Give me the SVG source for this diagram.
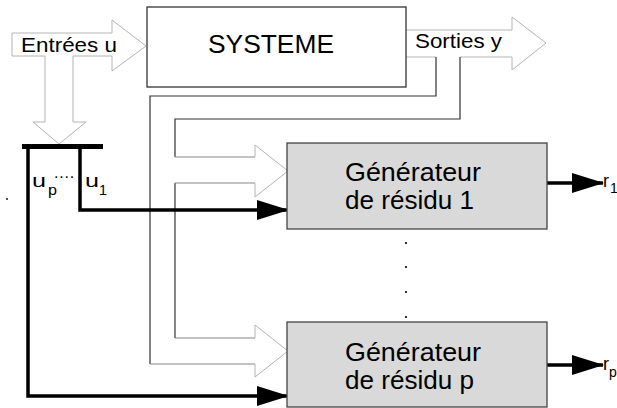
<svg xmlns="http://www.w3.org/2000/svg" width="617" height="408" viewBox="0 0 617 408">
<style>
text{font-family:"Liberation Sans",Arial,sans-serif;fill:#000}
.box{fill:#fff;stroke:#333;stroke-width:1.3}
.gen{fill:#d9d9d9;stroke:#444;stroke-width:1.3}
.hollow{fill:none;stroke:#b4b4b4;stroke-width:1}
.pipe{fill:none;stroke:#333;stroke-width:1.2}
.pipe2{fill:none;stroke:#888;stroke-width:1.2}
.thick{fill:none;stroke:#000;stroke-width:3.5}
.big{font-size:26px}
.mid{font-size:21px}
.sm{font-size:19px}
.sub{font-size:15px}
</style>
<defs>
<marker id="ah" markerUnits="userSpaceOnUse" viewBox="0 0 32 20" refX="31" refY="10" markerWidth="32" markerHeight="20" orient="auto">
<path d="M0,0 L32,10 L0,20 Z" fill="#000"/>
</marker>
</defs>
<rect width="617" height="408" fill="#fff"/>

<g id="connectors">
<!-- Entrées u hollow arrow -->
<path class="hollow" d="M45,56 L12,56 L12,33 L112,33 L112,20 L146,46 L112,71 L112,56 L73,56"/>
<path class="hollow" d="M45,56 L45,122 L33,122 L59,144 L86,122 L73,122 L73,56"/>
<!-- Sorties y hollow arrow -->
<path class="hollow" d="M406,30 L512,30 L512,17 L546,43 L512,70 L512,57 L460,57"/>
<path class="hollow" d="M406,57 L436,57"/>
<!-- pipes from outputs -->
<path class="pipe" d="M436,57 L436,96 L150,96 L150,364"/>
<path class="pipe" d="M460,57 L460,119 L175,119 L175,157"/>
<path class="pipe" d="M175,183 L175,338"/>
<path class="pipe2" d="M175,157 L255,157"/>
<path class="pipe2" d="M175,183 L255,183"/>
<path class="pipe2" d="M175,338 L255,338"/>
<path class="pipe2" d="M150,364 L255,364"/>
<path class="hollow" d="M255,157 L255,145 L288,171 L255,197 L255,183"/>
<path class="hollow" d="M255,338 L255,325 L288,351 L255,377 L255,364"/>
<!-- bar and input lines -->
<path d="M22,146.5 L103,146.5" stroke="#000" stroke-width="5" fill="none"/>
<path class="thick" d="M80,146 L80,210 L288,210" marker-end="url(#ah)"/>
<path class="thick" d="M28,146 L28,396 L288,396" marker-end="url(#ah)"/>
<!-- outputs -->
<path class="thick" d="M547,183 L603,183" marker-end="url(#ah)"/>
<path class="thick" d="M547,365 L603,365" marker-end="url(#ah)"/>
</g>

<g id="systeme">
<rect class="box" x="147" y="7" width="259" height="80"/>
<text class="big" x="208" y="53" textLength="126" lengthAdjust="spacingAndGlyphs">SYSTEME</text>
</g>

<g id="entrees">
<text class="mid" x="21" y="52" textLength="96" lengthAdjust="spacingAndGlyphs">Entrées u</text>
</g>

<g id="sorties">
<text class="mid" x="415" y="48" textLength="87" lengthAdjust="spacingAndGlyphs">Sorties y</text>
</g>

<g id="gen1">
<rect class="gen" x="287" y="143" width="260" height="86"/>
<text class="big" x="345" y="181" textLength="136" lengthAdjust="spacingAndGlyphs">Générateur</text>
<text class="big" x="345" y="209" textLength="129" lengthAdjust="spacingAndGlyphs">de résidu 1</text>
</g>

<g id="genp">
<rect class="gen" x="287" y="322" width="260" height="85"/>
<text class="big" x="345" y="361" textLength="136" lengthAdjust="spacingAndGlyphs">Générateur</text>
<text class="big" x="345" y="389" textLength="129" lengthAdjust="spacingAndGlyphs">de résidu p</text>
</g>

<g id="labels">
<text class="sm" x="32" y="187" textLength="14" lengthAdjust="spacingAndGlyphs">u</text>
<text class="sub" x="48" y="195" textLength="9" lengthAdjust="spacingAndGlyphs">p</text>
<text font-size="16" x="54" y="178" letter-spacing="0.8">....</text>
<text class="sm" x="85" y="187" textLength="14" lengthAdjust="spacingAndGlyphs">u</text>
<text class="sub" x="99" y="195" textLength="8" lengthAdjust="spacingAndGlyphs">1</text>
<text font-size="18" x="603" y="187">r</text>
<text font-size="14" x="610" y="193">1</text>
<text font-size="18" x="603" y="370">r</text>
<text font-size="14" x="609" y="377">p</text>
</g>

<g id="dots" fill="#000">
<circle cx="406" cy="243" r="1.1"/>
<circle cx="406" cy="267" r="1.1"/>
<circle cx="406" cy="292" r="1.1"/>
<circle cx="406" cy="317" r="1.1"/>
<circle cx="7" cy="199" r="0.9"/>
</g>
</svg>
